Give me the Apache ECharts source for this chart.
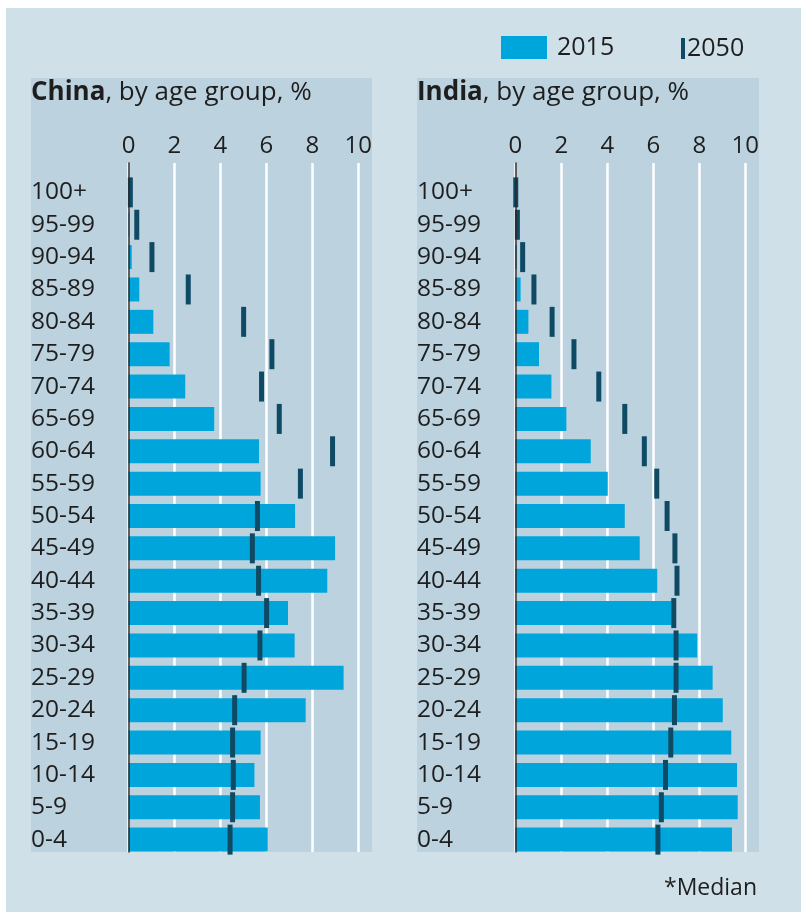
<!DOCTYPE html>
<html>
<head>
<meta charset="utf-8">
<script src="https://cdn.jsdelivr.net/npm/echarts@6/dist/echarts.min.js"></script>
<style>
html,body{margin:0;padding:0;background:#ffffff;}
#c{width:801px;height:912px;}
</style>
</head>
<body>
<div id="c"></div>
<script>
// ---------- data ----------
const ages = ['100+','95-99','90-94','85-89','80-84','75-79','70-74','65-69','60-64','55-59',
  '50-54','45-49','40-44','35-39','30-34','25-29','20-24','15-19','10-14','5-9','0-4'];
const china2015 = [0.01, 0.04, 0.14, 0.47, 1.08, 1.79, 2.47, 3.73, 5.68, 5.75,
  7.25, 8.99, 8.65, 6.94, 7.23, 9.36, 7.71, 5.75, 5.48, 5.72, 6.06];
const china2050 = [0.08, 0.36, 1.02, 2.60, 5.01, 6.24, 5.79, 6.56, 8.88, 7.48,
  5.61, 5.39, 5.66, 6.01, 5.72, 5.03, 4.62, 4.53, 4.56, 4.53, 4.42];
const india2015 = [0.00, 0.01, 0.06, 0.23, 0.57, 1.03, 1.57, 2.22, 3.28, 4.02,
  4.76, 5.41, 6.17, 6.80, 7.91, 8.58, 9.02, 9.39, 9.64, 9.67, 9.42];
const india2050 = [0.02, 0.09, 0.32, 0.81, 1.60, 2.55, 3.63, 4.76, 5.61, 6.15,
  6.60, 6.94, 7.03, 6.89, 6.99, 6.99, 6.92, 6.76, 6.53, 6.35, 6.20];
const xMin = 0, xMax = 10, xStep = 2;
const seriesNames = ['2015', '2050'];
const panelTitles = [['China', ', by age group, %'], ['India', ', by age group, %']];
const footnote = '*Median';

// ---------- style ----------
const FONT = 'Open Sans';
const TXT = '#1e1e1e';
const OUTER = '#cfe0e8';
const PANEL = '#bcd3df';
const BAR = '#00a5dc';
const MARK = '#0e4a64';

const panels = [
  {left: 128.5, width: 229.8, box: [31, 78, 341, 774], labelX: 31},
  {left: 515.3, width: 230.0, box: [417, 78, 342, 774], labelX: 417}
];
const lineTop = 163, lineBottom = 852;
const dataTop = 176.2, dataHeight = 679.6;

const grid = [], xAxis = [], yAxis = [], series = [], title = [];
const values2015 = [china2015, india2015];
const values2050 = [china2050, india2050];

panels.forEach((p, k) => {
  const gA = k * 2, gB = k * 2 + 1;
  grid.push({left: p.left, top: lineTop, width: p.width, height: lineBottom - lineTop, containLabel: false});
  grid.push({left: p.left, top: dataTop, width: p.width, height: dataHeight, containLabel: false});
  xAxis.push({
    gridIndex: gA, type: 'value', position: 'top', min: xMin, max: xMax, interval: xStep,
    axisLine: {show: false}, axisTick: {show: false},
    axisLabel: {show: true, margin: 5, fontFamily: FONT, fontSize: 24, color: TXT},
    splitLine: {show: true, lineStyle: {color: '#ffffff', width: 2.5}}
  });
  xAxis.push({
    gridIndex: gB, type: 'value', min: xMin, max: xMax, interval: xStep, show: false
  });
  yAxis.push({
    gridIndex: gA, type: 'value', z: 6,
    axisLine: {show: true, onZero: false, lineStyle: {color: '#2a2a2a', width: 1.5}},
    axisTick: {show: false}, axisLabel: {show: false}, splitLine: {show: false}
  });
  yAxis.push({
    gridIndex: gB, type: 'category', data: ages, inverse: true,
    axisLine: {show: false}, axisTick: {show: false}, splitLine: {show: false},
    axisLabel: {show: true, interval: 0, hideOverlap: false, align: 'left', margin: p.left - p.labelX,
      fontFamily: FONT, fontSize: 24.5, color: TXT}
  });
  series.push({
    name: seriesNames[0], type: 'bar', xAxisIndex: gB, yAxisIndex: gB,
    data: values2015[k], barWidth: 24, itemStyle: {color: BAR}, z: 2, silent: true
  });
  series.push({
    name: seriesNames[1], type: 'scatter', xAxisIndex: gB, yAxisIndex: gB,
    data: values2050[k].map((v, i) => [v, ages[i]]),
    symbol: 'rect', symbolSize: [5, 30], itemStyle: {color: MARK, opacity: 1}, z: 4, silent: true
  });
  title.push({
    left: p.labelX, top: 77, padding: 0,
    text: '{b|' + panelTitles[k][0] + '}{r|' + panelTitles[k][1] + '}',
    textStyle: {
      rich: {
        b: {fontFamily: FONT, fontSize: 26, fontWeight: 'bold', color: TXT, lineHeight: 32},
        r: {fontFamily: FONT, fontSize: 26, fontWeight: 'normal', color: TXT, lineHeight: 32}
      }
    }
  });
});

const graphicEls = [
  {type: 'rect', shape: {x: 6, y: 8, width: 795, height: 904}, style: {fill: OUTER}, z: -100, silent: true}
];
panels.forEach(p => {
  graphicEls.push({type: 'rect', shape: {x: p.box[0], y: p.box[1], width: p.box[2], height: p.box[3]},
    style: {fill: PANEL}, z: -90, silent: true});
});
graphicEls.push({type: 'text', x: 757, y: 888,
  style: {text: footnote, fontFamily: FONT, fontSize: 23, fill: TXT, textAlign: 'right', textVerticalAlign: 'middle'},
  z: 10, silent: true});

const chart = echarts.init(document.getElementById('c'), null, {renderer: 'canvas'});
chart.setOption({
  animation: false,
  backgroundColor: '#ffffff',
  title: title,
  legend: [
    {data: [seriesNames[0]], left: 501, top: 35, padding: 0, icon: 'rect', itemWidth: 46, itemHeight: 23,
      selectedMode: false, textStyle: {fontFamily: FONT, fontSize: 25, color: TXT, padding: [0, 0, 0, 5]}},
    {data: [seriesNames[1]], left: 681, top: 36, padding: 0, icon: 'rect', itemWidth: 4, itemHeight: 21,
      selectedMode: false, textStyle: {fontFamily: FONT, fontSize: 25, color: TXT, padding: [0, 0, 0, -3]}}
  ],
  graphic: {elements: graphicEls},
  grid: grid,
  xAxis: xAxis,
  yAxis: yAxis,
  series: series
});
</script>
</body>
</html>
